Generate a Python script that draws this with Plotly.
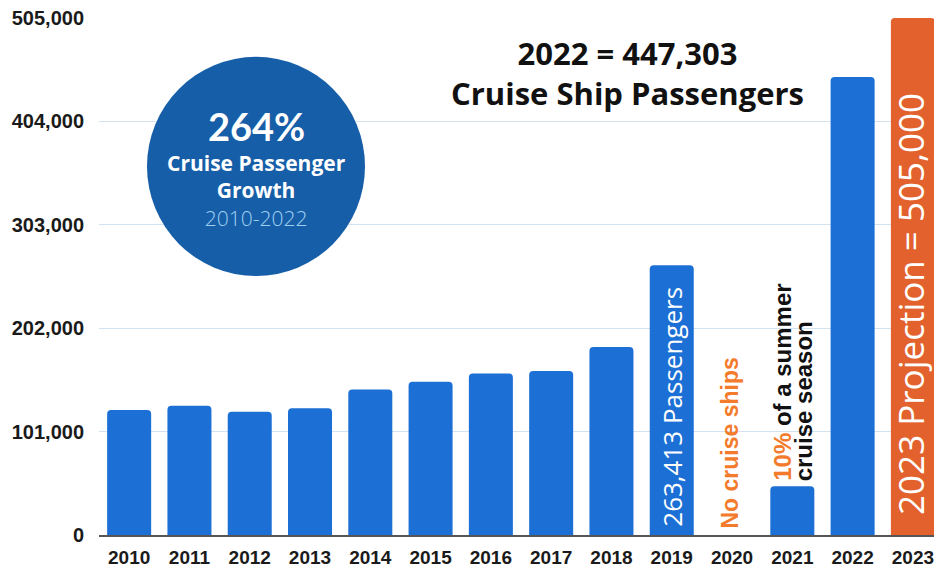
import plotly.graph_objects as go

years = ["2010", "2011", "2012", "2013", "2014", "2015", "2016",
         "2017", "2018", "2019", "2020", "2021", "2022", "2023"]
passengers = [122000, 126300, 120500, 123700, 142100, 149600, 157700,
              160300, 183600, 263413, 0, 47700, 447303, 505000]
bar_colors = ["#1c6fd4"] * 13 + ["#e2612c"]
y_ticks = [0, 101000, 202000, 303000, 404000, 505000]
y_tick_labels = ["0", "101,000", "202,000", "303,000", "404,000", "505,000"]

W, H = 934, 568
L, T, B = 99, 18, 31
PW, PH = W - L, H - T - B


def px(x):  # screen pixel -> paper
    return (x - L) / PW


def py(y):
    return (H - B - y) / PH


fig = go.Figure()
fig.add_trace(go.Bar(
    x=years, y=passengers, marker=dict(color=bar_colors, line=dict(width=0)),
    hoverinfo="x+y", showlegend=False,
))

annotations = [
    dict(text="<b>264%</b>", x=px(256), y=py(126),
         font=dict(family="Lato", size=38, color="white")),
    dict(text="<b>Cruise Passenger</b><br><b>Growth</b><br>"
              "<span style='color:#9fd0f2;font-weight:300'>2010-2022</span>",
         x=px(256), y=py(191),
         font=dict(family="Open Sans", size=21, color="white")),
    dict(text="<b>2022 = 447,303</b><br><b>Cruise Ship Passengers</b>",
         x=px(627), y=py(73),
         font=dict(family="Open Sans", size=31, color="#111111", weight=800)),
]
for a in annotations:
    a.update(xref="paper", yref="paper", xanchor="center", yanchor="middle", showarrow=False)

bar_notes = [
    dict(x=years.index("2019"), text="263,413 Passengers", yshift=6, xshift=0,
         font=dict(family="Open Sans", size=26, color="white")),
    dict(x=years.index("2023"), text="2023 Projection = 505,000", yshift=18, xshift=-3,
         font=dict(family="Open Sans", size=35, color="white")),
    dict(x=years.index("2020"), text="<b>No cruise ships</b>", yshift=4, xshift=-3,
         font=dict(family="Liberation Sans, Arial", size=23, color="#f47b2b")),
    dict(x=years.index("2021"), text="<b><span style='color:#f47b2b'>10%</span> of a summer</b>",
         yshift=52, xshift=-10,
         font=dict(family="Liberation Sans, Arial", size=24, color="#111111")),
    dict(x=years.index("2021"), text="<b>cruise season</b>", yshift=52, xshift=11,
         font=dict(family="Liberation Sans, Arial", size=24, color="#111111")),
]
for a in bar_notes:
    a.update(xref="x", yref="y", y=0, textangle=-90, xanchor="center", yanchor="bottom", showarrow=False)
    annotations.append(a)

fig.update_layout(
    width=W, height=H,
    margin=dict(l=L, r=0, t=T, b=B, pad=0),
    paper_bgcolor="white", plot_bgcolor="white",
    bargap=0.27, barcornerradius=4,
    annotations=annotations,
    shapes=[dict(type="circle", xref="paper", yref="paper",
                 x0=px(147), x1=px(365), y0=py(277), y1=py(57),
                 fillcolor="#175ea8", line=dict(width=0), layer="above")],
    xaxis=dict(type="category", range=[-0.5, 13.35], showgrid=False,
               showline=True, linecolor="#555555", linewidth=2,
               ticks="", ticklabelstandoff=4,
               tickfont=dict(family="Liberation Sans, Arial", size=19, color="#1a1a1a", weight="bold")),
    yaxis=dict(range=[0, 505000], tickvals=y_ticks, ticktext=y_tick_labels,
               showgrid=True, gridcolor="#d3e2f0", gridwidth=1, zeroline=False,
               ticks="", ticklabelstandoff=14,
               tickfont=dict(family="Liberation Sans, Arial", size=20, color="#1a1a1a", weight="bold")),
)

fig.write_html("out.html", config={"displayModeBar": False},
               post_script="document.body.style.margin='0';document.body.style.overflow='hidden';")
